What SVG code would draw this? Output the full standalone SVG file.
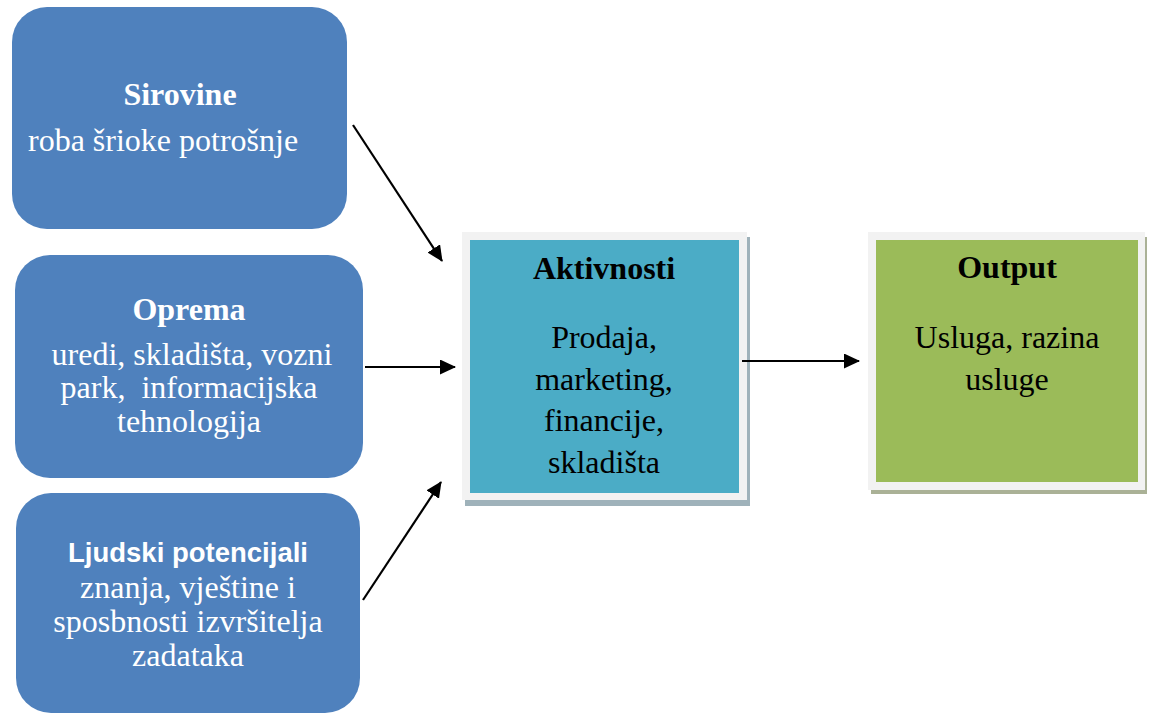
<svg xmlns="http://www.w3.org/2000/svg" width="1153" height="715" viewBox="0 0 1153 715">
<style>
.blue{fill:#4f81bd}
.t{font-family:"Liberation Serif","Times New Roman",serif;font-size:32px;text-anchor:middle}
.w{fill:#ffffff}
.k{fill:#000000}
.b{font-weight:bold}
.s{font-family:"Liberation Sans",Arial,sans-serif;font-size:27px;font-weight:bold;fill:#ffffff;text-anchor:middle}
.frame{fill:#f2f2f2}
.conn line{stroke:#000;stroke-width:2.2;fill:none;marker-end:url(#ah)}
</style>
<defs>
<marker id="ah" markerUnits="userSpaceOnUse" markerWidth="18" markerHeight="16" refX="15" refY="7.5" orient="auto">
<path d="M0,0 L16,7.5 L0,15 z" fill="#000"/>
</marker>
</defs>
<rect width="1153" height="715" fill="#ffffff"/>
<g id="sirovine">
<rect class="blue" x="12" y="7" width="335" height="222" rx="35" ry="35"/>
<text class="t w b" x="180" y="105">Sirovine</text>
<text class="t w" x="28" y="151" style="text-anchor:start">roba šrioke potrošnje</text>
</g>
<g id="oprema">
<rect class="blue" x="15" y="255" width="348" height="223" rx="35" ry="35"/>
<text class="t w b" x="189" y="320">Oprema</text>
<text class="t w" x="192" y="365">uredi, skladišta, vozni</text>
<text class="t w" x="189" y="398" xml:space="preserve">park,  informacijska</text>
<text class="t w" x="189" y="432">tehnologija</text>
</g>
<g id="ljudski">
<rect class="blue" x="16" y="493" width="344" height="220" rx="35" ry="35"/>
<text class="s" x="188" y="562" textLength="240" lengthAdjust="spacingAndGlyphs">Ljudski potencijali</text>
<text class="t w" x="188" y="598">znanja, vještine i</text>
<text class="t w" x="188" y="632">sposbnosti izvršitelja</text>
<text class="t w" x="188" y="666">zadataka</text>
</g>
<g id="aktivnosti">
<rect x="465" y="237" width="285" height="269" fill="#9fb2ba"/>
<rect class="frame" x="462" y="232" width="285" height="268"/>
<rect x="470" y="240" width="269" height="253" fill="#4bacc6"/>
<text class="t k b" x="604" y="279">Aktivnosti</text>
<text class="t k" x="604" y="348">Prodaja,</text>
<text class="t k" x="604" y="390">marketing,</text>
<text class="t k" x="604" y="431">financije,</text>
<text class="t k" x="604" y="473">skladišta</text>
</g>
<g id="output">
<rect x="871" y="237" width="276" height="257" fill="#aab196"/>
<rect class="frame" x="868" y="232" width="277" height="258"/>
<rect x="876" y="240" width="262" height="242" fill="#9bbb59"/>
<text class="t k b" x="1007" y="278">Output</text>
<text class="t k" x="1007" y="348">Usluga, razina</text>
<text class="t k" x="1007" y="390">usluge</text>
</g>
<g id="connectors" class="conn">
<line x1="353" y1="125" x2="442" y2="261"/>
<line x1="365" y1="367" x2="455" y2="367"/>
<line x1="363" y1="600" x2="441" y2="482"/>
<line x1="742" y1="361" x2="859" y2="361"/>
</g>
</svg>
